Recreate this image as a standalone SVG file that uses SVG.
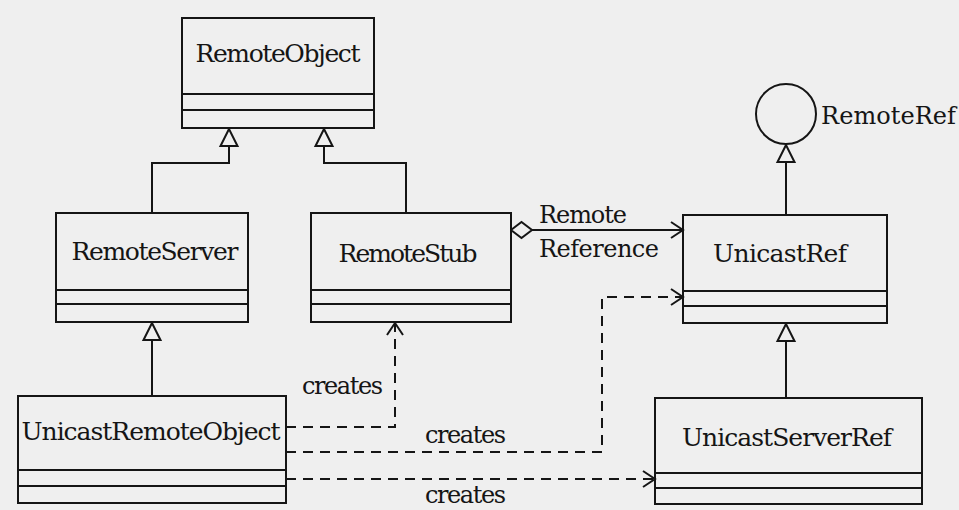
<svg xmlns="http://www.w3.org/2000/svg" width="959" height="510" viewBox="0 0 959 510">
  <style>
    .box { fill: none; stroke: #151515; stroke-width: 2; }
    .sep { stroke: #151515; stroke-width: 2; }
    .name { font-family: "DejaVu Serif", "Liberation Serif", serif; font-size: 25px; fill: #151515; text-anchor: middle; }
    .lbl { font-family: "DejaVu Serif", "Liberation Serif", serif; font-size: 24px; fill: #151515; }
    .line { fill: none; stroke: #151515; stroke-width: 2; }
    .dash { fill: none; stroke: #151515; stroke-width: 2; stroke-dasharray: 10 7; }
  </style>
  <defs>
    <!-- hollow generalization triangle -->
    <marker id="gen" markerUnits="userSpaceOnUse" markerWidth="22" markerHeight="22" viewBox="-11 -11 22 22" refX="9" refY="0" orient="auto">
      <path d="M9,0 L-8,-8.5 L-8,8.5 Z" fill="#efefef" stroke="#151515" stroke-width="2"/>
    </marker>
    <!-- open navigation arrow -->
    <marker id="open" markerUnits="userSpaceOnUse" markerWidth="20" markerHeight="20" viewBox="-14 -10 18 20" refX="0" refY="0" orient="auto">
      <path d="M-12,-8 L0,0 L-12,8" fill="none" stroke="#151515" stroke-width="2"/>
    </marker>
    <!-- hollow aggregation diamond -->
    <marker id="agg" markerUnits="userSpaceOnUse" markerWidth="26" markerHeight="20" viewBox="-1 -10 26 20" refX="0" refY="0" orient="auto">
      <path d="M0,0 L10.5,-8 L21,0 L10.5,8 Z" fill="#efefef" stroke="#151515" stroke-width="2"/>
    </marker>
  </defs>

  <rect x="0" y="0" width="959" height="510" fill="#efefef"/>

  <g id="connectors">
    <path class="line" d="M152,213 V163 H229 V129" marker-end="url(#gen)"/>
    <path class="line" d="M406,213 V163 H324 V129" marker-end="url(#gen)"/>
    <path class="line" d="M152,396 V323" marker-end="url(#gen)"/>
    <path class="line" d="M786,398 V324" marker-end="url(#gen)"/>
    <path class="line" d="M786,215 V145" marker-end="url(#gen)"/>
    <path class="line" d="M511,230 H683" marker-start="url(#agg)" marker-end="url(#open)"/>
    <path class="dash" d="M286,427 H395 V323" marker-end="url(#open)"/>
    <path class="dash" d="M286,452 H602 V297 H683" marker-end="url(#open)"/>
    <path class="dash" d="M286,479 H655" marker-end="url(#open)"/>
    <text class="lbl" x="539" y="223" textLength="88">Remote</text>
    <text class="lbl" x="539" y="257" textLength="120">Reference</text>
    <text class="lbl" x="302" y="394" textLength="81">creates</text>
    <text class="lbl" x="425" y="443" textLength="81">creates</text>
    <text class="lbl" x="425" y="503" textLength="81">creates</text>
  </g>

  <g id="RemoteObject">
    <rect class="box" x="182" y="18" width="192" height="110"/>
    <line class="sep" x1="182" y1="94" x2="374" y2="94"/>
    <line class="sep" x1="182" y1="110" x2="374" y2="110"/>
    <text class="name" x="278" y="62" textLength="165">RemoteObject</text>
  </g>

  <g id="RemoteServer">
    <rect class="box" x="56" y="213" width="192" height="109"/>
    <line class="sep" x1="56" y1="290" x2="248" y2="290"/>
    <line class="sep" x1="56" y1="304" x2="248" y2="304"/>
    <text class="name" x="155" y="260" textLength="167">RemoteServer</text>
  </g>

  <g id="RemoteStub">
    <rect class="box" x="311" y="213" width="200" height="109"/>
    <line class="sep" x1="311" y1="290" x2="511" y2="290"/>
    <line class="sep" x1="311" y1="304" x2="511" y2="304"/>
    <text class="name" x="408" y="262" textLength="139">RemoteStub</text>
  </g>

  <g id="RemoteRef">
    <circle cx="786" cy="114" r="30" fill="none" stroke="#151515" stroke-width="2"/>
    <text class="lbl" x="821" y="124" font-size="25" textLength="135">RemoteRef</text>
  </g>

  <g id="UnicastRef">
    <rect class="box" x="683" y="215" width="204" height="108"/>
    <line class="sep" x1="683" y1="291" x2="887" y2="291"/>
    <line class="sep" x1="683" y1="306" x2="887" y2="306"/>
    <text class="name" x="780" y="262" textLength="134">UnicastRef</text>
  </g>

  <g id="UnicastRemoteObject">
    <rect class="box" x="18" y="396" width="268" height="107"/>
    <line class="sep" x1="18" y1="470" x2="286" y2="470"/>
    <line class="sep" x1="18" y1="486" x2="286" y2="486"/>
    <text class="name" x="151" y="440" textLength="259">UnicastRemoteObject</text>
  </g>

  <g id="UnicastServerRef">
    <rect class="box" x="655" y="398" width="267" height="106"/>
    <line class="sep" x1="655" y1="473" x2="922" y2="473"/>
    <line class="sep" x1="655" y1="488" x2="922" y2="488"/>
    <text class="name" x="787" y="446" textLength="210">UnicastServerRef</text>
  </g>
</svg>
